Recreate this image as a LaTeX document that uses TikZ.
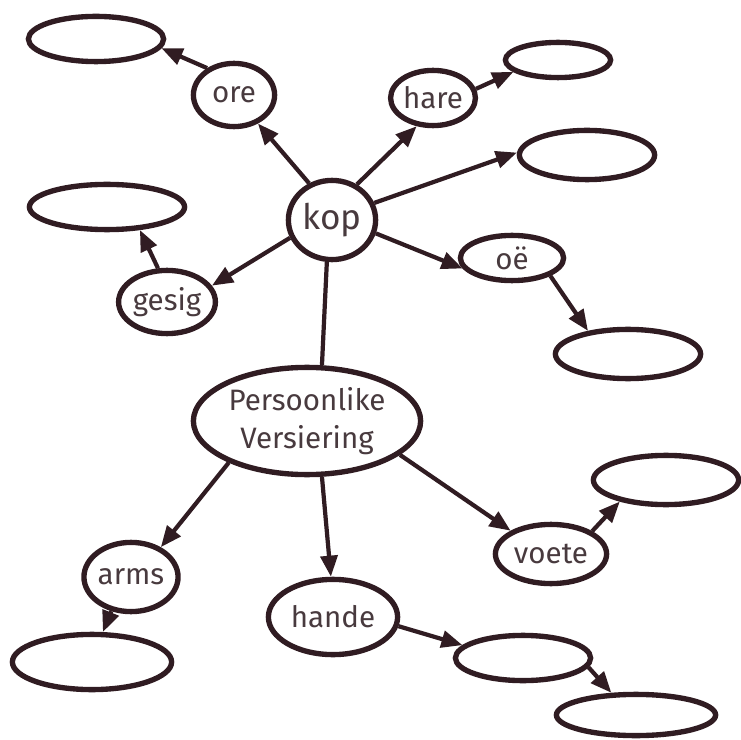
\documentclass[tikz,border=0pt]{standalone}
\usepackage{fontspec}
\setmainfont{Fira Sans}
\usepackage{tikz}
\usetikzlibrary{shapes.geometric, arrows.meta}
\definecolor{ink}{RGB}{48,28,34}
\definecolor{txt}{RGB}{72,58,62}

\begin{document}
\begin{tikzpicture}[x=0.025cm, y=-0.025cm,
    bub/.style 2 args={ellipse, draw=ink, line width=3.8pt, text=txt, inner sep=0pt,
      minimum width=#1*0.5mm-2pt, minimum height=#2*0.5mm-2pt, font=\fontsize{21}{27}\selectfont},
    arr/.style={draw=ink, line width=3pt, -{Triangle[length=15pt, width=12pt]}}]
  \useasboundingbox[fill=white] (0, 0) rectangle (741, 740);
  \node [bub={45}{41}, font=\fontsize{25}{28}\selectfont] (kop) at (332, 220) {kop};
  \node [bub={42}{33}] (ore) at (234, 95) {ore};
  \node [bub={69}{24}] (oreE) at (96, 39) {};
  \node [bub={41}{33}] (gesig) at (167, 302) {gesig};
  \node [bub={79}{24}] (gesigE) at (107, 207) {};
  \node [bub={42}{29}] (hare) at (433, 98) {hare};
  \node [bub={54}{19}] (hareE) at (558, 60) {};
  \node [bub={69}{26}] (rightE) at (587, 155) {};
  \node [bub={53}{24}] (oe) at (512, 258) {oë};
  \node [bub={74}{26}] (oeE) at (628, 354) {};
  \node [bub={115}{55}, align=center] (pv) at (307, 421) {Persoonlike\\Versiering};
  \node [bub={48}{36}] (arms) at (131, 577) {arms};
  \node [bub={81}{29}] (armsE) at (92, 662) {};
  \node [bub={66}{39}] (hande) at (333, 617) {hande};
  \node [bub={69}{24}] (handeE) at (523, 658) {};
  \node [bub={81}{22}] (handeE2) at (636, 715) {};
  \node [bub={57}{31}] (voete) at (551, 554) {voete};
  \node [bub={74}{26}] (voeteE) at (666, 480) {};
  \draw [arr] (kop.122) -- (ore.-50);
  \draw [arr] (ore.135) -- (oreE.-8);
  \draw [arr] (kop.55) -- (hare.240);
  \draw [arr] (hare.12) -- (hareE.195);
  \draw [arr] (kop.22) -- (rightE.178);
  \draw [arr] (kop.-17) -- (oe.192);
  \draw [arr] (oe.-25) -- (oeE.150);
  \draw [arr] (kop.203) -- (gesig.20);
  \draw [arr] (gesig.105) -- (gesigE.-35);
  \draw [draw=ink, line width=3pt] (kop.263) -- (pv.75);
  \draw [arr] (pv.208) -- (arms.45);
  \draw [arr] (pv.-75) -- (hande.93);
  \draw [arr] (pv.-20) -- (voete.150);
  \draw [arr] (arms.240) -- (armsE.70);
  \draw [arr] (hande.-8) -- (handeE.168);
  \draw [arr] (handeE.-8) -- (handeE2.138);
  \draw [arr] (voete.29) -- (voeteE.205);
\end{tikzpicture}
\end{document}
